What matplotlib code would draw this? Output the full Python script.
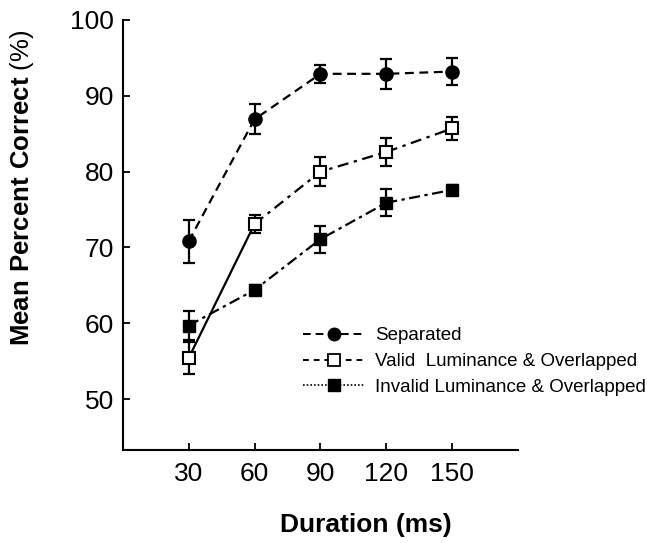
import numpy as np
import matplotlib
matplotlib.use('Agg')
import matplotlib.pyplot as plt
from matplotlib.lines import Line2D

plt.rcParams['font.family'] = ['Liberation Sans', 'DejaVu Sans']
plt.rcParams['mathtext.fontset'] = 'custom'
plt.rcParams['mathtext.bf'] = 'Liberation Sans:bold'
plt.rcParams['mathtext.rm'] = 'Liberation Sans'

# Data
durations = [30, 60, 90, 120, 150]
separated = [70.8, 86.9, 92.9, 92.9, 93.2]
separated_err = [2.8, 2.0, 1.2, 2.0, 1.8]
valid = [55.4, 73.1, 80.0, 82.6, 85.7]
valid_err = [2.1, 1.2, 1.9, 1.8, 1.5]
invalid = [59.7, 64.4, 71.1, 75.9, 77.6]
invalid_err = [1.9, 0.6, 1.8, 1.8, 0.7]
labels = ['Separated', 'Valid  Luminance & Overlapped', 'Invalid Luminance & Overlapped']

fig = plt.figure(figsize=(6.47, 5.43), dpi=100)
ax = fig.add_axes([0.1896, 0.1713, 0.6114, 0.7919])

lw = 1.6
dash_sep = (0, (4, 2.5))
dash_val = (0, (5, 2.5, 1.5, 2.5))
dash_inv = (0, (5, 2, 1.5, 2))

# error bars first
for y, e in [(separated, separated_err), (valid, valid_err), (invalid, invalid_err)]:
    ax.errorbar(durations, y, yerr=e, fmt='none', ecolor='black', elinewidth=1.6,
                capsize=4, capthick=1.6, zorder=2)

# lines
ax.plot(durations, separated, color='black', lw=lw, ls=dash_sep, zorder=2)
ax.plot(durations[:2], valid[:2], color='black', lw=lw, ls='-', zorder=2)
ax.plot(durations[1:], valid[1:], color='black', lw=lw, ls=dash_val, zorder=2)
ax.plot(durations, invalid, color='black', lw=lw, ls=dash_inv, zorder=2)

# markers
ax.plot(durations, separated, 'o', color='black', ms=9.5, zorder=3)
ax.plot(durations, valid, 's', mfc='white', mec='black', mew=1.5, ms=8.5, zorder=3)
ax.plot(durations, invalid, 's', color='black', ms=9, zorder=3)

ax.set_xlim(0, 180)
ax.set_ylim(43.3, 100)
ax.set_xticks(durations)
ax.set_yticks([50, 60, 70, 80, 90, 100])
for s in ['top', 'right']:
    ax.spines[s].set_visible(False)
for s in ['left', 'bottom']:
    ax.spines[s].set_linewidth(1.5)
ax.tick_params(axis='both', direction='in', width=1.3, labelsize=19)
ax.tick_params(axis='y', length=5, pad=6)
ax.tick_params(axis='x', length=5, pad=9)

fig.text(366 / 647, 1 - 525 / 543, 'Duration (ms)', fontsize=19, fontweight='bold',
         ha='center', va='center')
fig.text(22 / 647, 1 - 188 / 543, r'$\bf{Mean\ Percent\ Correct}$ (%)', fontsize=18.5,
         rotation=90, ha='center', va='center')

handles = [
    Line2D([], [], color='black', lw=1.4, ls=dash_sep, marker='o', ms=9),
    Line2D([], [], color='black', lw=1.4, ls=(0, (3, 2.5)), marker='s', mfc='white', mew=1.3, ms=8),
    Line2D([], [], color='black', lw=1.2, ls=(0, (1, 1.2)), marker='s', ms=8.5),
]
ax.legend(handles, labels, loc='upper left', bbox_to_anchor=(303 / 647, 1 - 327 / 543),
          bbox_transform=fig.transFigure, frameon=False, fontsize=13.5,
          handlelength=3.3, handletextpad=0.55, labelspacing=0.47, borderpad=0,
          borderaxespad=0)

fig.savefig('out.png', dpi=100)
